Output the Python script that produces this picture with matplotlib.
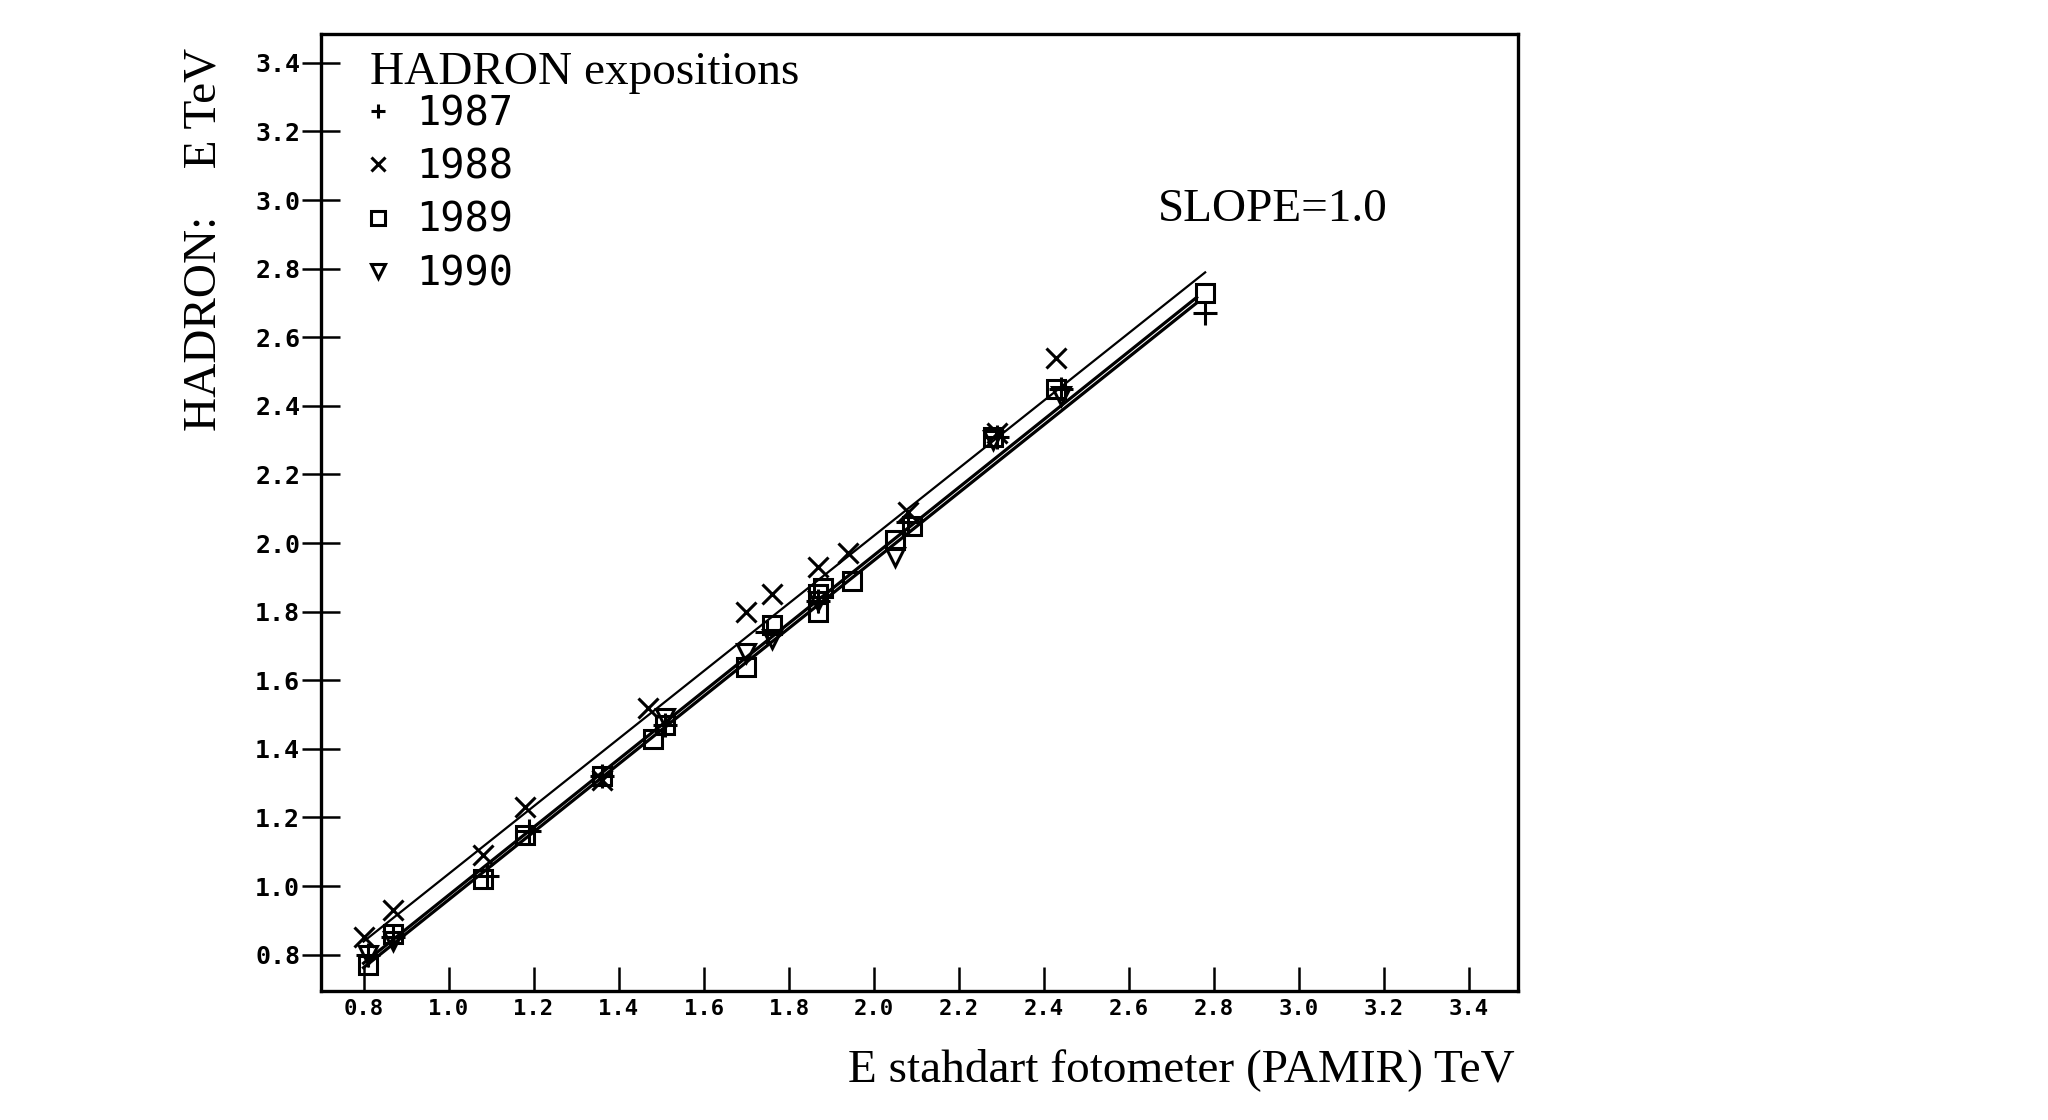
import matplotlib.pyplot as plt
from matplotlib.lines import Line2D

# values (TeV)
x_1987 = [0.81, 0.87, 1.09, 1.19, 1.36, 1.51, 1.75, 1.87, 2.08, 2.29, 2.44, 2.78]
y_1987 = [0.80, 0.85, 1.03, 1.16, 1.32, 1.47, 1.74, 1.83, 2.06, 2.31, 2.45, 2.67]

x_1988 = [0.80, 0.87, 1.08, 1.18, 1.36, 1.47, 1.70, 1.76, 1.87, 1.94, 2.08, 2.29, 2.43]
y_1988 = [0.85, 0.93, 1.09, 1.23, 1.31, 1.52, 1.80, 1.85, 1.93, 1.97, 2.09, 2.32, 2.54]

x_1989 = [0.81, 0.87, 1.08, 1.18, 1.36, 1.48, 1.51, 1.70, 1.76, 1.87, 1.87, 1.88,
          1.95, 2.05, 2.09, 2.28, 2.43, 2.78]
y_1989 = [0.77, 0.86, 1.02, 1.15, 1.32, 1.43, 1.47, 1.64, 1.76, 1.80, 1.85, 1.87,
          1.89, 2.01, 2.05, 2.31, 2.45, 2.73]

x_1990 = [0.81, 0.87, 1.51, 1.70, 1.76, 1.87, 2.05, 2.28, 2.44]
y_1990 = [0.80, 0.84, 1.49, 1.68, 1.72, 1.83, 1.96, 2.30, 2.43]

# fitted lines: (x start, x end), (y start, y end)
fit_upper = ([0.80, 2.78], [0.838, 2.789])
fit_lower1 = ([0.80, 2.76], [0.762, 2.700])
fit_lower2 = ([0.80, 2.76], [0.775, 2.716])

ticks = [0.8, 1.0, 1.2, 1.4, 1.6, 1.8, 2.0, 2.2, 2.4, 2.6, 2.8, 3.0, 3.2, 3.4]
years = ['1987', '1988', '1989', '1990']

serif = 'Liberation Serif'
mono = 'DejaVu Sans Mono'

fig = plt.figure(figsize=(20.48, 11.2), dpi=100)
ax = fig.add_axes([321/2048, 1-991/1120, (1518-321)/2048, (991-34)/1120])

ax.plot(*fit_upper, color='black', lw=1.6)
ax.plot(*fit_lower1, color='black', lw=2.3)
ax.plot(*fit_lower2, color='black', lw=2.3)

mk = dict(linestyle='none', color='black', markeredgewidth=2.2, markerfacecolor='none')
ax.plot(x_1987, y_1987, marker='+', markersize=17, **mk)
ax.plot(x_1988, y_1988, marker='x', markersize=14, **mk)
ax.plot(x_1989, y_1989, marker='s', markersize=13, **mk)
ax.plot(x_1990, y_1990, marker='v', markersize=13, **mk)

ax.set_xlim(0.70, 3.516)
ax.set_ylim(0.694, 3.484)
ax.set_xticks(ticks)
ax.set_yticks(ticks)
ax.set_xticklabels([f'{t:.1f}' for t in ticks], fontfamily=mono, fontsize=16, fontweight='bold')
ax.set_yticklabels([f'{t:.1f}' for t in ticks], fontfamily=mono, fontsize=18, fontweight='bold')
ax.tick_params(axis='x', direction='in', length=17, width=1.8, pad=6)
ax.tick_params(axis='y', direction='inout', length=28, width=1.8, pad=1)
for s in ax.spines.values():
    s.set_linewidth(2.4)

handles = [Line2D([], [], marker=m, **mk, markersize=10) for m in ['+', 'x', 's', 'v']]
leg = ax.legend(handles, years, loc='upper left',
                bbox_to_anchor=(0.034, 0.937), frameon=False,
                prop={'family': mono, 'size': 29},
                borderpad=0, borderaxespad=0,
                labelspacing=0.33, handlelength=0.8, handletextpad=0.55)

fig.text(370/2048, 1-73/1120, 'HADRON expositions', fontfamily=serif, fontsize=34,
         va='center')
fig.text(1158/2048, 1-210/1120, 'SLOPE=1.0', fontfamily=serif, fontsize=34, va='center')
fig.text(1515/2048, 1-1070/1120, 'E stahdart fotometer (PAMIR) TeV',
         fontfamily=serif, fontsize=34, ha='right', va='center')
fig.text(204/2048, 1-48/1120, 'HADRON:    E TeV', fontfamily=serif, fontsize=34,
         rotation=90, ha='center', va='top')

fig.savefig('out.png', dpi=100, facecolor='white')
